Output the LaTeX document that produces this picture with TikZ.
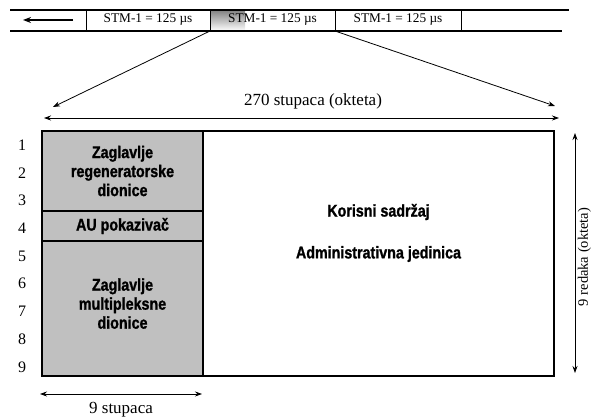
\documentclass[tikz,border=0pt]{standalone}
\usepackage{fontspec}
\setmainfont{Liberation Serif}
\newfontfamily\hdrfont[FakeStretch=0.84,FakeBold=1.2]{Liberation Sans}
\usetikzlibrary{arrows.meta}
\definecolor{boxgray}{RGB}{192,192,192}
\definecolor{shade}{RGB}{212,212,212}
\tikzset{
  thick line/.style={line width=1.4pt},
  dimarrow/.style={line width=0.8pt,{Stealth[length=7pt,width=5pt]}-{Stealth[length=7pt,width=5pt]}},
  onearrow/.style={line width=0.8pt,-{Stealth[length=7pt,width=5pt]}},
  block/.style={draw,line width=1.4pt,fill=boxgray,inner sep=0pt,minimum width=161pt,align=center,
    font=\hdrfont\bfseries\fontsize{17}{19}\selectfont},
  payload/.style={font=\hdrfont\bfseries\fontsize{17}{19}\selectfont},
  stm/.style={font=\fontsize{13.3}{15}\selectfont},
  dimlabel/.style={font=\fontsize{17}{19}\selectfont},
  rownum/.style={font=\fontsize{16}{18}\selectfont}
}
\begin{document}
\begin{tikzpicture}[x=1pt,y=-1pt]
\useasboundingbox (0,0) rectangle (592,419);
% top frame bar
\fill[shade] (210,10) rectangle (245,31);
\draw[thick line] (10,10) -- (569,10);
\draw[thick line] (10,31) -- (562,31);
\foreach \x in {86,210,335,461} \draw[line width=1pt] (\x,10) -- (\x,31);
\coordinate (arrS) at (73,20);
\coordinate (arrE) at (23,20);
\draw[line width=1.6pt,-{Stealth[length=8pt,width=6pt]}] (arrS) -- (arrE);
\node[stm] (stm1) at (148,20) {STM-1 = 125 µs};
\node[stm] (stm2) at (272.5,20) {STM-1 = 125 µs};
\node[stm] (stm3) at (398,20) {STM-1 = 125 µs};
% zoom lines
\coordinate (zl) at (210,31);
\coordinate (zr) at (335,31);
\coordinate (tl) at (53,107);
\coordinate (tr) at (555,106);
\draw[onearrow] (zl) -- (tl);
\draw[onearrow] (zr) -- (tr);
% 270 columns
\coordinate (hl) at (44,118);
\coordinate (hr) at (559,118);
\draw[dimarrow] (hl) -- (hr);
\node[dimlabel] (cols) at (313,101) {270 stupaca (okteta)};
% frame
\node[draw,line width=1.4pt,inner sep=0pt,minimum width=512pt,minimum height=245pt] (frame) at (298,253.5) {};
\node[block,minimum height=80pt] (rsoh) at (122.5,171) {Zaglavlje\\regeneratorske\\dionice};
\node[block,minimum height=30pt] (aup) at (122.5,226) {AU pokazivač};
\node[block,minimum height=135pt,text depth=10pt] (msoh) at (122.5,308.5) {Zaglavlje\\multipleksne\\dionice};
\node[payload] (pl1) at (378.5,212) {Korisni sadržaj};
\node[payload] (pl2) at (378.5,254) {Administrativna jedinica};
% row numbers
\foreach \i in {1,...,9} \node[rownum] (r\i) at (22,{145+(\i-1)*27.75}) {\i};
% bottom 9 columns
\coordinate (bl) at (40,394);
\coordinate (br) at (202,394);
\draw[dimarrow] (bl) -- (br);
\node[dimlabel] (ninecols) at (121,410) {9 stupaca};
% right rows arrow
\coordinate (vt) at (575,133);
\coordinate (vb) at (575,373);
\draw[dimarrow] (vt) -- (vb);
\node[rotate=90,inner sep=0pt,font=\fontsize{14.5}{16}\selectfont] (rows) at (584.5,257) {9 redaka (okteta)};
\end{tikzpicture}
\end{document}
